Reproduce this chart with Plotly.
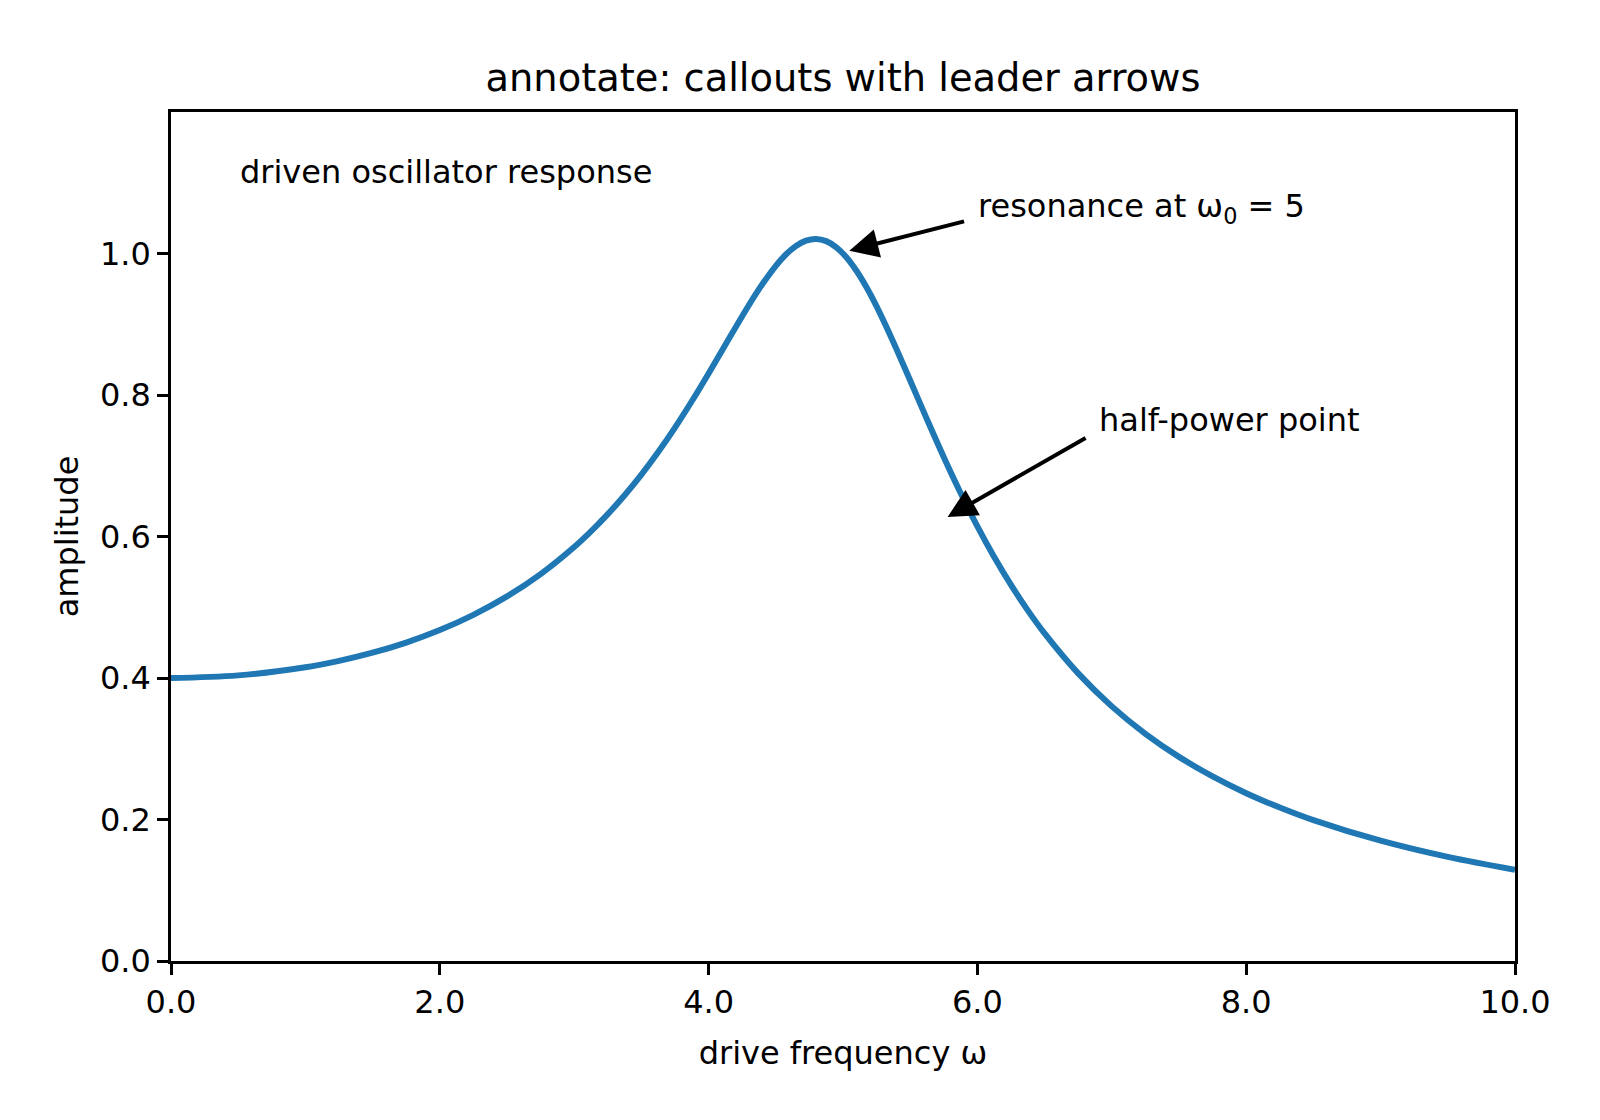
import plotly.graph_objects as go

# drive frequency samples and amplitude
omega = [0.0, 0.5, 1.0, 1.25, 1.5, 1.75, 2.0, 2.25, 2.5, 2.75, 3.0, 3.125, 3.25, 3.375,
         3.5, 3.625, 3.75, 3.875, 4.0, 4.125, 4.25, 4.375, 4.5, 4.575, 4.65, 4.725,
         4.8, 4.875, 4.95, 5.025, 5.1, 5.175, 5.25, 5.375, 5.5, 5.625, 5.75, 5.875,
         6.0, 6.125, 6.25, 6.375, 6.5, 6.75, 7.0, 7.25, 7.5, 7.75, 8.0, 8.25, 8.5,
         9.0, 9.5, 10.0]
amplitude = [0.4000, 0.4037, 0.4152, 0.4243, 0.4358, 0.4501, 0.4678, 0.4893, 0.5153,
             0.5469, 0.5852, 0.6073, 0.6316, 0.6583, 0.6875, 0.7194, 0.7540, 0.7912,
             0.8305, 0.8710, 0.9114, 0.9496, 0.9826, 0.9986, 1.0107, 1.0182, 1.0206,
             1.0175, 1.0088, 0.9947, 0.9756, 0.9522, 0.9252, 0.8747, 0.8204, 0.7655,
             0.7120, 0.6614, 0.6143, 0.5710, 0.5315, 0.4956, 0.4630, 0.4065, 0.3599,
             0.3211, 0.2885, 0.2609, 0.2372, 0.2169, 0.1991, 0.1700, 0.1471, 0.1288]

x_ticks = [0, 2, 4, 6, 8, 10]
y_ticks = [0.0, 0.2, 0.4, 0.6, 0.8, 1.0]

# callouts: (text, text x, text y, arrow tail x, tail y, tip x, tip y)
callouts = [
    ("resonance at ω<sub>0</sub> = 5", 5.99, 1.064, 5.912, 1.046, 5.047, 1.004),
    ("half-power point", 6.89, 0.765, 6.816, 0.7405, 5.778, 0.6276),
]

FONT = "DejaVu Sans"
fig = go.Figure()
fig.add_trace(go.Scatter(x=omega, y=amplitude, mode="lines",
                         line=dict(color="#1f77b4", width=6, shape="spline", smoothing=1.0),
                         showlegend=False, hoverinfo="skip"))

for text, tx, ty, ax, ay, px, py in callouts:
    fig.add_annotation(x=px, y=py, ax=ax, ay=ay, xref="x", yref="y", axref="x", ayref="y",
                       text="", showarrow=True, arrowhead=2, arrowsize=1.45, arrowwidth=4,
                       arrowcolor="black", standoff=0, startstandoff=0)
    fig.add_annotation(x=tx, y=ty, xref="x", yref="y", text=text, showarrow=False,
                       xanchor="left", yanchor="middle",
                       font=dict(family=FONT, size=32, color="black"))

fig.add_annotation(x=0.05, y=0.9295, xref="paper", yref="paper",
                   text="driven oscillator response", showarrow=False,
                   xanchor="left", yanchor="middle",
                   font=dict(family=FONT, size=32, color="black"))

axis_common = dict(showline=True, mirror=True, linecolor="black", linewidth=2.6,
                   ticks="outside", ticklen=11, tickwidth=2.6, tickcolor="black",
                   showgrid=False, zeroline=False,
                   tickfont=dict(family=FONT, size=32, color="black"),
                   tickformat=".1f")

fig.update_xaxes(range=[0, 10], tickvals=x_ticks,
                 title=dict(text="drive frequency ω", font=dict(family=FONT, size=32, color="black"),
                            standoff=22),
                 **axis_common)
fig.update_yaxes(range=[0, 1.2], tickvals=y_ticks,
                 title=dict(text="amplitude", font=dict(family=FONT, size=32, color="black"),
                            standoff=12),
                 **axis_common)

fig.update_layout(
    width=1600, height=1120, autosize=False,
    margin=dict(l=171, r=85, t=112, b=159, pad=0),
    paper_bgcolor="white", plot_bgcolor="white",
    title=dict(text="annotate: callouts with leader arrows", x=843 / 1600, xanchor="center",
               y=1 - 78 / 1120, yanchor="middle",
               font=dict(family=FONT, size=38.4, color="black")),
)

fig.write_html("out.html")
